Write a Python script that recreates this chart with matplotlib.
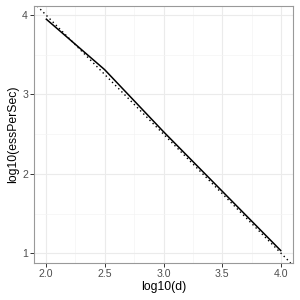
import matplotlib
matplotlib.use('Agg')
import matplotlib.pyplot as plt
from matplotlib.ticker import MultipleLocator

# data
log_d = [2.0, 2.5, 3.0, 3.5, 4.0]
log_ess = [3.95, 3.31, 2.53, 1.78, 1.03]

# reference line y = a + b*x
ref_intercept = 7.0
ref_slope = -1.5

xticks = [2.0, 2.5, 3.0, 3.5, 4.0]
xticklabels = ['2.0', '2.5', '3.0', '3.5', '4.0']
yticks = [1, 2, 3, 4]

plt.rcParams['font.family'] = ['Liberation Sans', 'DejaVu Sans']

fig = plt.figure(figsize=(3, 3), dpi=100)
ax = fig.add_axes([34 / 300, 1 - 263 / 300, (293 - 34) / 300, (263 - 6) / 300])

ax.set_xlim(1.9, 4.1)
ax.set_ylim(0.88, 4.11)

ax.xaxis.set_minor_locator(MultipleLocator(0.25))
ax.yaxis.set_minor_locator(MultipleLocator(0.5))
ax.grid(which='major', color='#ebebeb', lw=0.8)
ax.grid(which='minor', color='#f4f4f4', lw=0.5)
ax.set_axisbelow(True)

ax.plot(log_d, log_ess, color='black', lw=1.1, solid_capstyle='butt')
ax.axline((0, ref_intercept), slope=ref_slope, color='black', lw=1.0,
          linestyle=(0, (1, 2.2)))

ax.set_xticks(xticks)
ax.set_xticklabels(xticklabels)
ax.set_yticks(yticks)
ax.tick_params(which='major', length=2.8, width=0.7, color='#333333',
               labelsize=7.6, labelcolor='#4d4d4d', pad=1.5)
ax.tick_params(which='minor', length=0)

for s in ax.spines.values():
    s.set_color('#999999')
    s.set_linewidth(0.8)

ax.set_xlabel('log10(d)', fontsize=8.8, labelpad=1.5)
ax.set_ylabel('log10(essPerSec)', fontsize=8.8, labelpad=2.5)

fig.savefig('out.png', dpi=100)
